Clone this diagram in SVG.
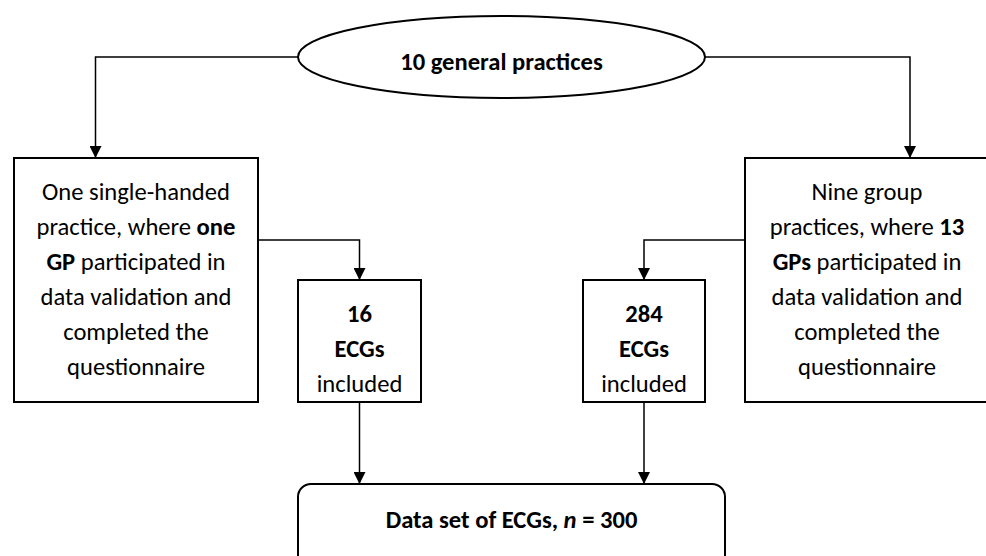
<svg xmlns="http://www.w3.org/2000/svg" width="986" height="556" viewBox="0 0 986 556">
<style>
.box{fill:#fff;stroke:#000;stroke-width:2}
.con{fill:none;stroke:#000;stroke-width:1.5}
text{font-family:Carlito,Lato,"Liberation Sans",sans-serif;font-size:24.6px;fill:#000;text-anchor:middle}
.b{font-weight:bold}
</style>
<defs>
<marker id="ah" markerWidth="12" markerHeight="12" viewBox="0 0 12 12" refX="12" refY="6" orient="auto" markerUnits="userSpaceOnUse">
<path d="M0,0 L12,6 L0,12 Z" fill="#000"/>
</marker>
</defs>
<rect width="986" height="556" fill="#fff"/>
<g id="connectors">
<path class="con" d="M298,57 H95.5 V158" marker-end="url(#ah)"/>
<path class="con" d="M705,57 H910 V158" marker-end="url(#ah)"/>
<path class="con" d="M258,240 H359.5 V280" marker-end="url(#ah)"/>
<path class="con" d="M745,240 H644 V280" marker-end="url(#ah)"/>
<path class="con" d="M359.5,402 V484" marker-end="url(#ah)"/>
<path class="con" d="M644,402 V484" marker-end="url(#ah)"/>
</g>
<g id="practices">
<ellipse class="box" cx="501.5" cy="57" rx="203.5" ry="41"/>
<text class="b" x="501.5" y="70" font-size="25px">10 general practices</text>
</g>
<g id="single">
<rect class="box" x="14" y="158" width="244" height="244"/>
<text x="136" y="200">One single-handed</text>
<text x="136" y="235">practice, where <tspan class="b">one</tspan></text>
<text x="136" y="270"><tspan class="b">GP</tspan> participated in</text>
<text x="136" y="305">data validation and</text>
<text x="136" y="340">completed the</text>
<text x="136" y="375">questionnaire</text>
</g>
<g id="group">
<rect class="box" x="745" y="158" width="246" height="244"/>
<text x="867" y="200">Nine group</text>
<text x="867" y="235">practices, where <tspan class="b">13</tspan></text>
<text x="867" y="270"><tspan class="b">GPs</tspan> participated in</text>
<text x="867" y="305">data validation and</text>
<text x="867" y="340">completed the</text>
<text x="867" y="375">questionnaire</text>
</g>
<g id="ecg16">
<rect class="box" x="298" y="280" width="123" height="122"/>
<text class="b" x="359.5" y="322">16</text>
<text class="b" x="359.5" y="357">ECGs</text>
<text x="359.5" y="392">included</text>
</g>
<g id="ecg284">
<rect class="box" x="583" y="280" width="122" height="122"/>
<text class="b" x="644" y="322">284</text>
<text class="b" x="644" y="357">ECGs</text>
<text x="644" y="392">included</text>
</g>
<g id="dataset">
<rect class="box" x="298" y="484" width="427" height="90" rx="13" ry="13"/>
<text class="b" x="511.5" y="528">Data set of ECGs, <tspan font-style="italic">n</tspan> = 300</text>
</g>
</svg>
